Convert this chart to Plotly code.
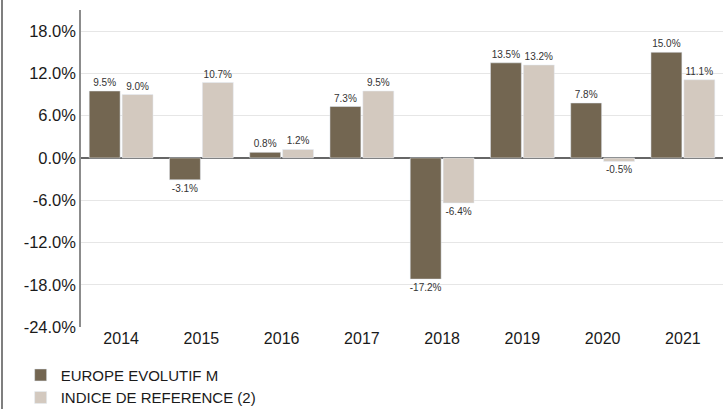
import plotly.graph_objects as go

years = ["2014", "2015", "2016", "2017", "2018", "2019", "2020", "2021"]
fund = [9.5, -3.1, 0.8, 7.3, -17.2, 13.5, 7.8, 15.0]
index_ref = [9.0, 10.7, 1.2, 9.5, -6.4, 13.2, -0.5, 11.1]
tick_vals = [-24, -18, -12, -6, 0, 6, 12, 18]
tick_text = ["-24.0%", "-18.0%", "-12.0%", "-6.0%", "0.0%", "6.0%", "12.0%", "18.0%"]

fig = go.Figure()
fig.add_bar(x=years, y=fund, name="EUROPE EVOLUTIF M", marker_color="#736651",
            text=[f"{v:.1f}%" for v in fund], textposition="outside",
            textfont=dict(size=10, color="#333333"), cliponaxis=False)
fig.add_bar(x=years, y=index_ref, name="INDICE DE REFERENCE (2)", marker_color="#d3c9bf",
            text=[f"{v:.1f}%" for v in index_ref], textposition="outside",
            textfont=dict(size=10, color="#333333"), cliponaxis=False)

fig.update_layout(
    width=723, height=409,
    margin=dict(l=81, r=0, t=10, b=82, autoexpand=False),
    paper_bgcolor="white", plot_bgcolor="white",
    font=dict(family="Liberation Sans, Arial, sans-serif", color="#1a1a1a"),
    barmode="group", bargap=0.18, bargroupgap=0.06,
    uniformtext=dict(minsize=10, mode="show"),
    showlegend=True,
    legend=dict(orientation="v", x=-0.094, y=-0.10, xanchor="left", yanchor="top",
                font=dict(size=15, color="#1a1a1a"), tracegroupgap=0,
                itemwidth=30, bgcolor="rgba(0,0,0,0)"),
    xaxis=dict(tickfont=dict(size=16), showgrid=False, showline=False, ticks="",
               automargin=False),
    yaxis=dict(range=[-24, 21], tickvals=tick_vals, ticktext=tick_text,
               tickfont=dict(size=16.5), showgrid=True, gridcolor="#e6e6e6",
               showline=True, linecolor="#8c8c8c", linewidth=1.5,
               zeroline=True, zerolinecolor="#666666", zerolinewidth=1.5,
               ticks="", ticklen=0, automargin=False),
    shapes=[dict(type="line", xref="paper", yref="paper",
                 x0=-79/642, x1=-79/642, y0=-0.26, y1=1.04,
                 line=dict(color="#555555", width=1.5))],
)

fig.write_html("out.html", config={"displayModeBar": False},
               post_script="document.body.style.margin='0';")
